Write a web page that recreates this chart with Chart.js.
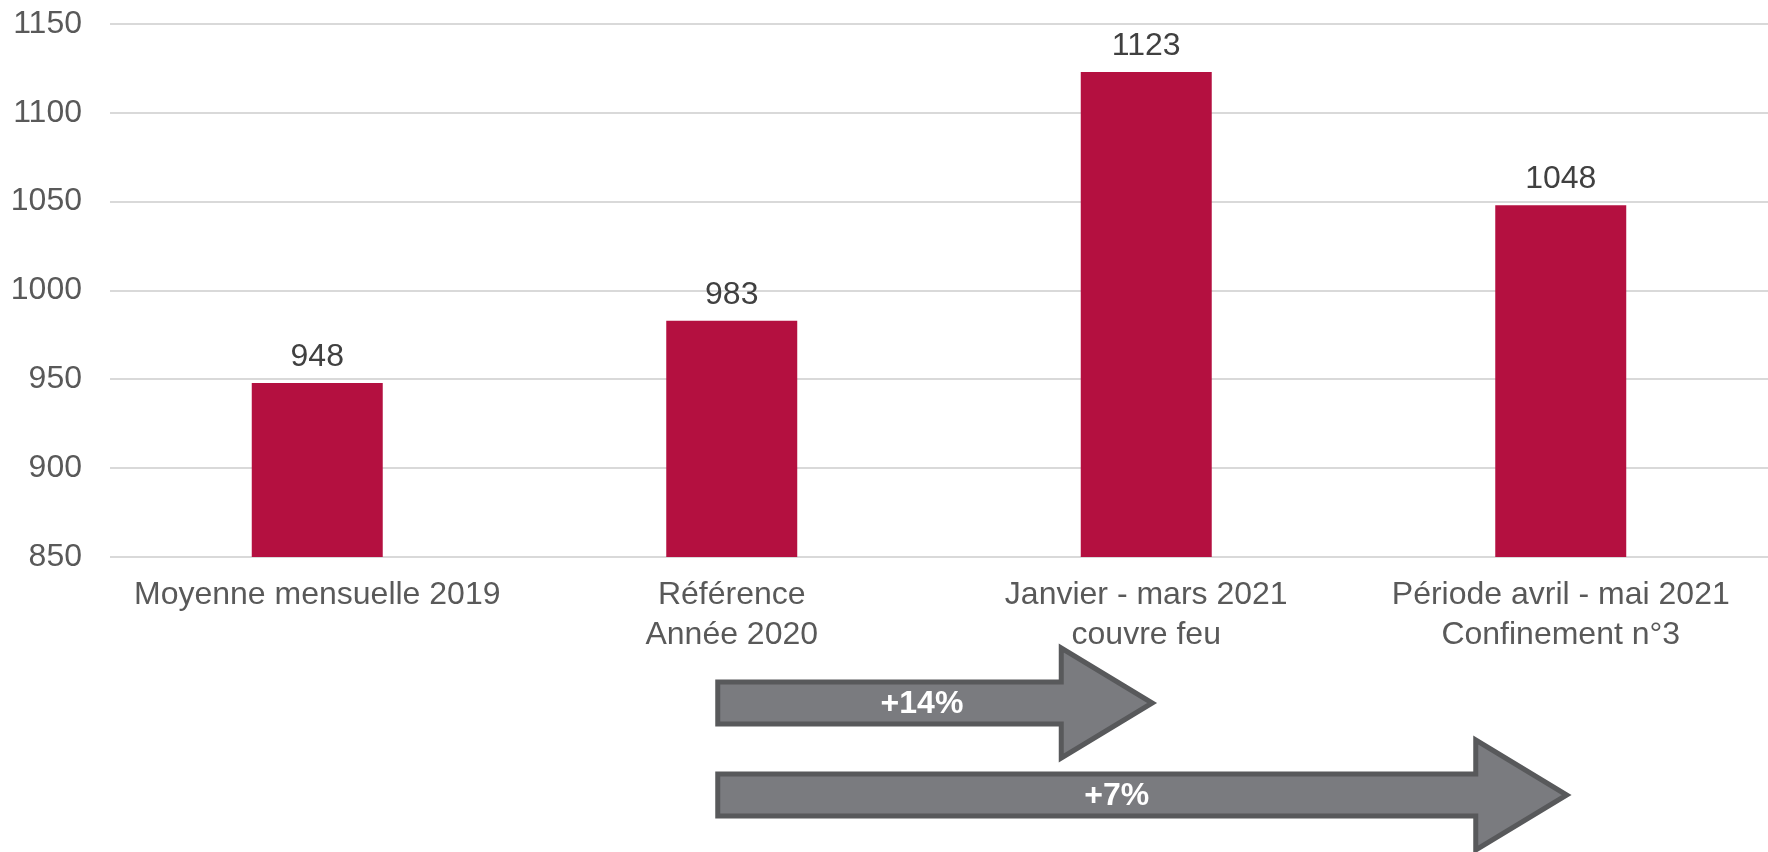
<!DOCTYPE html>
<html>
<head>
<meta charset="utf-8">
<script src="https://cdn.jsdelivr.net/npm/chart.js@4/dist/chart.umd.min.js"></script>
<style>
  html, body { margin: 0; padding: 0; background: #fff; }
  #wrap { width: 1768px; height: 852px; }
</style>
</head>
<body>
<div id="wrap"><canvas id="chart" width="1768" height="852"></canvas></div>
<script>
const categories = [
    'Moyenne mensuelle 2019',
    ['Référence', 'Année 2020'],
    ['Janvier - mars 2021', 'couvre feu'],
    ['Période avril - mai 2021', 'Confinement n°3']
];
const values = [948, 983, 1123, 1048];
const yTicks = [850, 900, 950, 1000, 1050, 1100, 1150];

// comparison arrows (from category index -> to category index)
const arrowLabels = ['+14%', '+7%'];
const arrowFrom = [1, 1];
const arrowTo = [2, 3];

const FONT = '"Liberation Sans", Arial, sans-serif';

const valueLabels = {
    id: 'valueLabels',
    afterDatasetsDraw(chart) {
        const ctx = chart.ctx;
        const meta = chart.getDatasetMeta(0);
        ctx.save();
        ctx.font = '32px ' + FONT;
        ctx.fillStyle = '#404040';
        ctx.textAlign = 'center';
        ctx.textBaseline = 'alphabetic';
        meta.data.forEach((bar, i) => {
            ctx.fillText(values[i], bar.x, bar.y - 17);
        });
        ctx.restore();
    }
};

const arrows = {
    id: 'arrows',
    afterDraw(chart) {
        const ctx = chart.ctx;
        const x = chart.scales.x;
        const bottom = chart.chartArea.bottom;
        const rows = [146, 238];
        ctx.save();
        arrowLabels.forEach((label, i) => {
            const x0 = x.getPixelForValue(arrowFrom[i]) - 14;
            const tip = x.getPixelForValue(arrowTo[i]) + 6;
            const cy = bottom + rows[i];
            const headLen = 91;
            const bodyH = 21;
            const headH = 55;
            ctx.beginPath();
            ctx.moveTo(x0, cy - bodyH);
            ctx.lineTo(tip - headLen, cy - bodyH);
            ctx.lineTo(tip - headLen, cy - headH);
            ctx.lineTo(tip, cy);
            ctx.lineTo(tip - headLen, cy + headH);
            ctx.lineTo(tip - headLen, cy + bodyH);
            ctx.lineTo(x0, cy + bodyH);
            ctx.closePath();
            ctx.fillStyle = '#7A7B7F';
            ctx.fill();
            ctx.lineWidth = 5;
            ctx.lineJoin = 'miter';
            ctx.strokeStyle = '#58595B';
            ctx.stroke();

            ctx.font = 'bold 32px ' + FONT;
            ctx.fillStyle = '#ffffff';
            ctx.textAlign = 'center';
            ctx.textBaseline = 'middle';
            ctx.fillText(label, x0 + (tip - x0) * 0.47, cy + 1);
        });
        ctx.restore();
    }
};

new Chart(document.getElementById('chart'), {
    type: 'bar',
    data: {
        labels: categories,
        datasets: [{
            data: values,
            backgroundColor: '#B41040',
            categoryPercentage: 1,
            barPercentage: 0.316
        }]
    },
    options: {
        responsive: false,
        animation: false,
        devicePixelRatio: 1,
        layout: { padding: { top: 24, right: 0, bottom: 179, left: 0 } },
        plugins: {
            legend: { display: false },
            tooltip: { enabled: false }
        },
        scales: {
            x: {
                grid: { display: false, drawTicks: false },
                border: { display: false },
                afterFit(scale) {
                    scale.paddingLeft = 0;
                    scale.paddingRight = 0;
                },
                ticks: {
                    color: '#595959',
                    font: { family: FONT, size: 32, lineHeight: '40px' },
                    padding: 18,
                    maxRotation: 0,
                    autoSkip: false
                }
            },
            y: {
                min: yTicks[0],
                max: yTicks[yTicks.length - 1],
                afterBuildTicks(scale) {
                    scale.ticks = yTicks.map(v => ({ value: v }));
                },
                afterFit(scale) {
                    scale.width = 110;
                    scale.paddingTop = 0;
                    scale.paddingBottom = 0;
                },
                grid: { color: '#D9D9D9', lineWidth: 2, drawTicks: false },
                border: { display: false },
                ticks: {
                    color: '#595959',
                    font: { family: FONT, size: 32 },
                    padding: 28,
                    callback: v => String(v)
                }
            }
        }
    },
    plugins: [valueLabels, arrows]
});
</script>
</body>
</html>
